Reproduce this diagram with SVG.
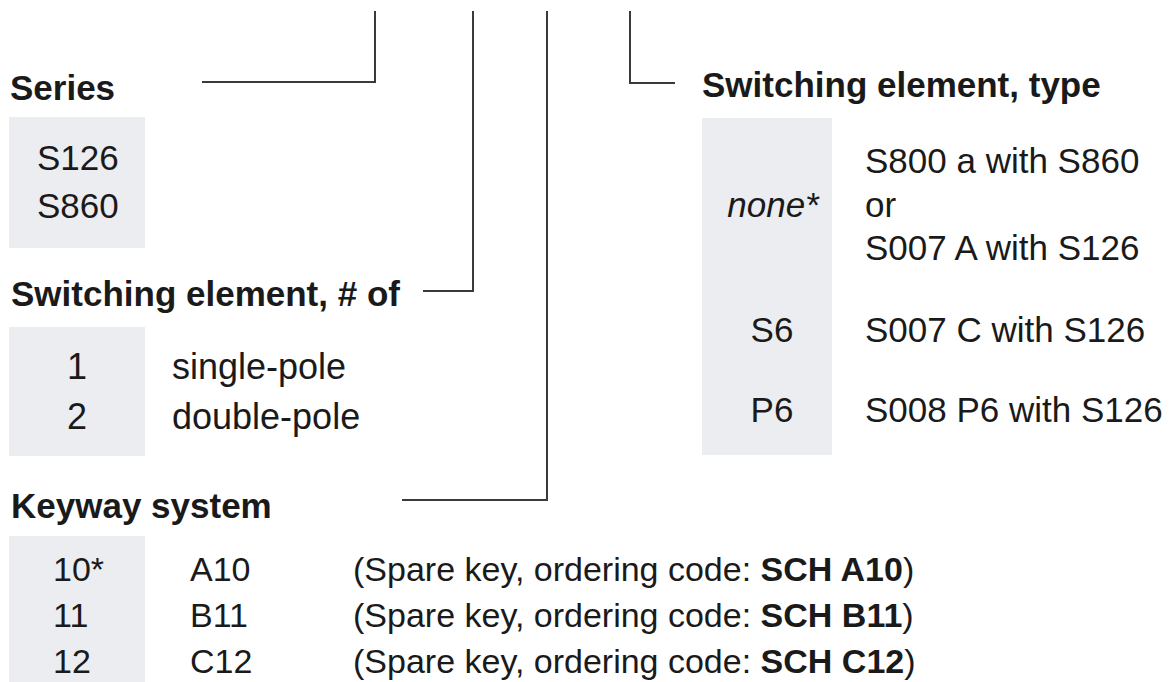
<svg xmlns="http://www.w3.org/2000/svg" width="1176" height="682" viewBox="0 0 1176 682">
  <style>
    text { font-family: "Liberation Sans", Arial, Helvetica, sans-serif; fill: #1a1a1a; font-size: 35px; }
    .h { font-weight: bold; }
    .box { fill: #ebedf0; }
    .conn { fill: none; stroke: #3a3a3a; stroke-width: 2; }
    .b { font-weight: bold; }
    .k { font-size: 34px; }
    .p { font-size: 36px; }
  </style>
  <rect width="1176" height="682" fill="#ffffff"/>

  <g id="connectors">
    <path class="conn" d="M202,82 H375 V11"/>
    <path class="conn" d="M423,291 H473 V11"/>
    <path class="conn" d="M402,500 H547 V11"/>
    <path class="conn" d="M675,83 H630 V11"/>
  </g>

  <g id="series">
    <text class="h" x="10" y="100">Series</text>
    <rect class="box" x="9" y="117" width="136" height="131"/>
    <text x="37" y="170">S126</text>
    <text x="37" y="218">S860</text>
  </g>

  <g id="switching-count">
    <text class="h" x="11" y="306" font-size="34">Switching element, # of</text>
    <rect class="box" x="9" y="327" width="136" height="129"/>
    <text class="p" x="77" y="379" text-anchor="middle">1</text>
    <text class="p" x="172" y="379">single-pole</text>
    <text class="p" x="77" y="429" text-anchor="middle">2</text>
    <text class="p" x="172" y="429">double-pole</text>
  </g>

  <g id="keyway">
    <text class="h" x="11" y="518">Keyway system</text>
    <rect class="box" x="9" y="536" width="136" height="146"/>
    <text class="k" x="53" y="581">10*</text>
    <text class="k" x="190" y="581">A10</text>
    <text class="k" x="353" y="581">(Spare key, ordering code: <tspan class="b">SCH A10</tspan>)</text>
    <text class="k" x="53" y="627">11</text>
    <text class="k" x="190" y="627">B11</text>
    <text class="k" x="353" y="627">(Spare key, ordering code: <tspan class="b">SCH B11</tspan>)</text>
    <text class="k" x="53" y="673">12</text>
    <text class="k" x="190" y="673">C12</text>
    <text class="k" x="353" y="673">(Spare key, ordering code: <tspan class="b">SCH C12</tspan>)</text>
  </g>

  <g id="switching-type">
    <text class="h" x="702" y="97">Switching element, type</text>
    <rect class="box" x="702" y="118" width="130" height="337"/>
    <text x="773" y="217" text-anchor="middle" font-style="italic">none*</text>
    <text x="865" y="173">S800 a with S860</text>
    <text x="865" y="217">or</text>
    <text x="865" y="260">S007 A with S126</text>
    <text x="772" y="342" text-anchor="middle">S6</text>
    <text x="865" y="342">S007 C with S126</text>
    <text x="772" y="422" text-anchor="middle">P6</text>
    <text x="865" y="422">S008 P6 with S126</text>
  </g>
</svg>
